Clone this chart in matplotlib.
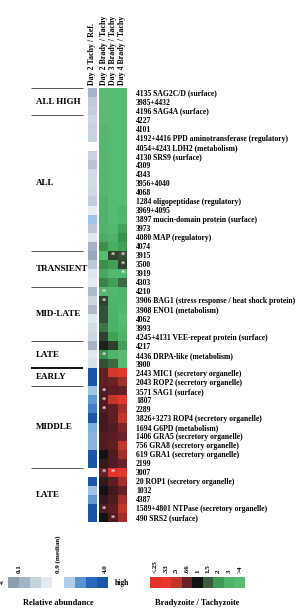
import numpy as np
import matplotlib
matplotlib.use("Agg")
import matplotlib.pyplot as plt
from matplotlib.colors import LinearSegmentedColormap

plt.rcParams["font.family"] = ["Liberation Serif", "DejaVu Serif"]
plt.rcParams["font.weight"] = "bold"

# gene rows, top to bottom
genes = [
    "4135 SAG2C/D (surface)", "3985+4432", "4196 SAG4A (surface)", "4227", "4101",
    "4192+4416 PPD aminotransferase (regulatory)", "4054+4243 LDH2 (metabolism)",
    "4130 SRS9 (surface)", "4309", "4343", "3956+4040", "4068",
    "1284 oligopeptidase (regulatory)", "3969+4095", "3897 mucin-domain protein (surface)",
    "3973", "4080 MAP (regulatory)", "4074", "3915", "3500", "3919", "4303", "4210",
    "3906 BAG1 (stress response / heat shock protein)", "3908 ENO1 (metabolism)",
    "4062", "3993", "4245+4131 VEE-repeat protein (surface)", "4217",
    "4436 DRPA-like (metabolism)", "3900", "2443 MIC1 (secretory organelle)",
    "2043 ROP2 (secretory organelle)", "3571 SAG1 (surface)", "1807", "2289",
    "3826+3273 ROP4 (secretory organelle)", "1694 G6PD (metabolism)",
    "1406 GRA5 (secretory organelle)", "756 GRA8 (secretory organelle)",
    "619 GRA1 (secretory organelle)", "2199", "3007", "20 ROP1 (secretory organelle)",
    "1032", "4387", "1589+4801 NTPase (secretory organelle)", "490 SRS2 (surface)",
]

# Day 2 tachyzoite vs reference (relative abundance)
ref_abundance = [
    0.1, 0.18, 0.2, 0.25, 0.22, 0.22, 0.9, 0.22, 0.15, 0.3, 0.3, 0.28,
    0.2, 0.5, 1.6, 0.17, 0.4, 0.1, 0.07, 0.17, 0.4, 0.45, 0.12, 0.25,
    0.12, 0.4, 0.3, 0.25, 0.1, 0.4, 0.35, 4.0, 4.0, 1.6, 2.2, 2.6,
    4.0, 1.9, 1.8, 1.8, 4.0, 4.0, 0.9, 4.0, 1.6, 2.2, 4.0, 4.0,
]

# bradyzoite / tachyzoite ratios
day2 = [
    4.5, 4.5, 4.5, 4.5, 3.5, 3.5, 3.5, 3.5, 3.5, 3.5, 3.5, 3.5,
    3.0, 3.0, 3.0, 3.0, 2.7, 1.9, 4.5, 1.9, 2.5, 1.8, 3.5, 1.3,
    1.4, 1.4, 1.7, 1.3, 1.1, 1.9, 1.4, 0.7, 0.7, 0.75, 0.75, 0.75,
    0.8, 0.8, 0.75, 0.75, 1.0, 0.85, 0.68, 0.85, 1.0, 0.85, 0.75, 1.0,
]
day3 = [
    4.5, 4.5, 4.5, 4.5, 4.5, 4.5, 4.5, 4.5, 4.5, 4.5, 4.5, 4.5,
    4.0, 4.0, 4.0, 3.5, 3.0, 2.7, 1.3, 2.2, 3.5, 2.2, 3.5, 3.0,
    3.0, 2.8, 2.8, 2.2, 1.3, 3.0, 1.6, 0.4, 0.66, 0.7, 0.48, 0.7,
    0.7, 0.75, 0.72, 0.7, 0.75, 0.75, 0.28, 0.7, 0.8, 0.75, 0.7, 0.75,
]
day4 = [
    4.5, 4.5, 4.5, 4.5, 4.5, 4.5, 4.5, 4.5, 4.5, 4.5, 4.5, 4.5,
    4.0, 3.0, 3.5, 2.3, 1.9, 2.2, 1.4, 1.3, 3.5, 1.6, 3.0, 3.0,
    3.5, 4.0, 3.5, 3.0, 2.2, 4.0, 4.0, 0.35, 0.55, 0.68, 0.3, 0.55,
    0.48, 0.62, 0.66, 0.48, 0.55, 0.66, 0.33, 0.55, 0.68, 0.55, 0.48, 0.55,
]

columns = ["Day 2 Tachy / Ref.", "Day 2 Brady / Tachy", "Day 3 Brady / Tachy", "Day 4 Brady / Tachy"]

# (label, first row, end row)
groups = [("ALL HIGH", 0, 3), ("ALL", 3, 18), ("TRANSIENT", 18, 22), ("MID-LATE", 22, 28),
          ("LATE", 28, 31), ("EARLY", 31, 33), ("MIDDLE", 33, 42), ("LATE", 42, 48)]

# significant cells (row, ratio column)
significant = [(18, 1), (18, 2), (19, 2), (20, 2), (22, 0), (23, 0), (29, 0),
               (33, 0), (34, 0), (35, 0), (42, 0), (42, 1), (46, 0), (47, 1)]

ratio_levels = [0.25, 0.33, 0.5, 0.66, 1, 1.5, 2, 3, 4]
ratio_ticks = ["<.25", ".33", ".5", ".66", "1", "1.5", "2", "3", ">4"]
abund_levels = [0.05, 0.1, 0.22, 0.45, 0.9, 1.5, 2.3, 3.0, 4.0]

# colour maps on log2 scale
ratio_colors = ["#e8302a", "#e43a2e", "#c0372b", "#6c2128", "#121212",
                "#3b5b3d", "#3e9a50", "#4fb469", "#58bb72"]
r_lo, r_hi = -2.0, 2.0
r_pos = (np.log2(ratio_levels) - r_lo) / (r_hi - r_lo)
r_pos[0], r_pos[-1] = 0.0, 1.0
ratio_cmap = LinearSegmentedColormap.from_list("ratio", list(zip(r_pos, ratio_colors)))

abund_colors = ["#8a9fb4", "#a3b5c6", "#c5d4df", "#e3ebf0", "#ffffff",
                "#b1cdea", "#5a95d3", "#2968bd", "#1c56a6"]
a_lo, a_hi = np.log2(abund_levels[0]), np.log2(abund_levels[-1])
a_pos = (np.log2(abund_levels) - a_lo) / (a_hi - a_lo)
a_pos[0], a_pos[-1] = 0.0, 1.0
abund_cmap = LinearSegmentedColormap.from_list("abund", list(zip(a_pos, abund_colors)))

W, H = 301, 609
fig = plt.figure(figsize=(W / 100, H / 100), dpi=100)


def rect(x0, y0, x1, y1):
    return [x0 / W, 1 - y1 / H, (x1 - x0) / W, (y1 - y0) / H]


n = len(genes)
top, bottom = 88, 522

# reference column
ax_ref = fig.add_axes(rect(88, top, 97, bottom))
ax_ref.imshow(np.log2(np.array(ref_abundance))[:, None], cmap=abund_cmap,
              vmin=a_lo, vmax=a_hi, aspect="auto", interpolation="nearest")
ax_ref.set_yticks([])
ax_ref.xaxis.tick_top()
ax_ref.set_xticks([0])
ax_ref.set_xticklabels(columns[:1], rotation=90, fontsize=5.7)
ax_ref.tick_params(length=0, pad=2)
for s in ax_ref.spines.values():
    s.set_visible(False)

# ratio columns
ratios = np.column_stack([day2, day3, day4])
ax = fig.add_axes(rect(99, top, 127, bottom))
ax.imshow(np.log2(ratios), cmap=ratio_cmap, vmin=r_lo, vmax=r_hi,
          aspect="auto", interpolation="nearest")
ax.xaxis.tick_top()
ax.set_xticks(range(3))
ax.set_xticklabels(columns[1:], rotation=90, fontsize=5.7)
ax.yaxis.tick_right()
ax.set_yticks(range(n))
ax.set_yticklabels(genes, fontsize=5.5)
ax.tick_params(length=0, pad=6.5)
ax.tick_params(axis="x", pad=2)
for s in ax.spines.values():
    s.set_visible(False)
for r, c in significant:
    ax.text(c, r + 0.1, "*", color="#f2dede", fontsize=6, ha="center", va="center")

# group labels and separators
ax_g = fig.add_axes(rect(0, top, 88, bottom))
ax_g.set_xlim(0, 1)
ax_g.set_ylim(n, 0)
ax_g.axis("off")
bounds = sorted(set([g[1] for g in groups] + [g[2] for g in groups]))
for b in bounds:
    thick = b == 31
    ax_g.hlines(b, 31 / 88, 83 / 88, color="black" if thick else "#555555",
                lw=1.3 if thick else 0.7)
for name, a, b in groups:
    ax_g.text(36 / 88, (a + b) / 2, name, fontsize=6.5, ha="left", va="center")

# legend: relative abundance
ax_l1 = fig.add_axes(rect(8, 577, 108, 588))
ax_l1.imshow(np.log2(np.array(abund_levels))[None, :], cmap=abund_cmap,
             vmin=a_lo, vmax=a_hi, aspect="auto")
ax_l1.set_yticks([])
ax_l1.xaxis.tick_top()
ax_l1.set_xticks([0.5, 4, 8.3])
ax_l1.set_xticklabels(["0.1", "0.9 (median)", "4.0"], rotation=90, fontsize=5)
ax_l1.tick_params(length=0, pad=3)
for s in ax_l1.spines.values():
    s.set_visible(False)
fig.text(4 / W, 1 - 583 / H, "low", fontsize=5.5, ha="right", va="center")
fig.text(115 / W, 1 - 583 / H, "high", fontsize=5.5, ha="left", va="center")
fig.text(58 / W, 1 - 603 / H, "Relative abundance", fontsize=6, ha="center", va="center")

# legend: bradyzoite / tachyzoite
ax_l2 = fig.add_axes(rect(150, 577, 245, 588))
ax_l2.imshow(np.log2(np.array(ratio_levels, dtype=float))[None, :], cmap=ratio_cmap,
             vmin=r_lo, vmax=r_hi, aspect="auto")
ax_l2.set_yticks([])
ax_l2.xaxis.tick_top()
ax_l2.set_xticks(range(len(ratio_ticks)))
ax_l2.set_xticklabels(ratio_ticks, rotation=90, fontsize=5)
ax_l2.tick_params(length=0, pad=3)
for s in ax_l2.spines.values():
    s.set_visible(False)
fig.text(197 / W, 1 - 603 / H, "Bradyzoite / Tachyzoite", fontsize=6, ha="center", va="center")

fig.savefig("out.png", dpi=100)
